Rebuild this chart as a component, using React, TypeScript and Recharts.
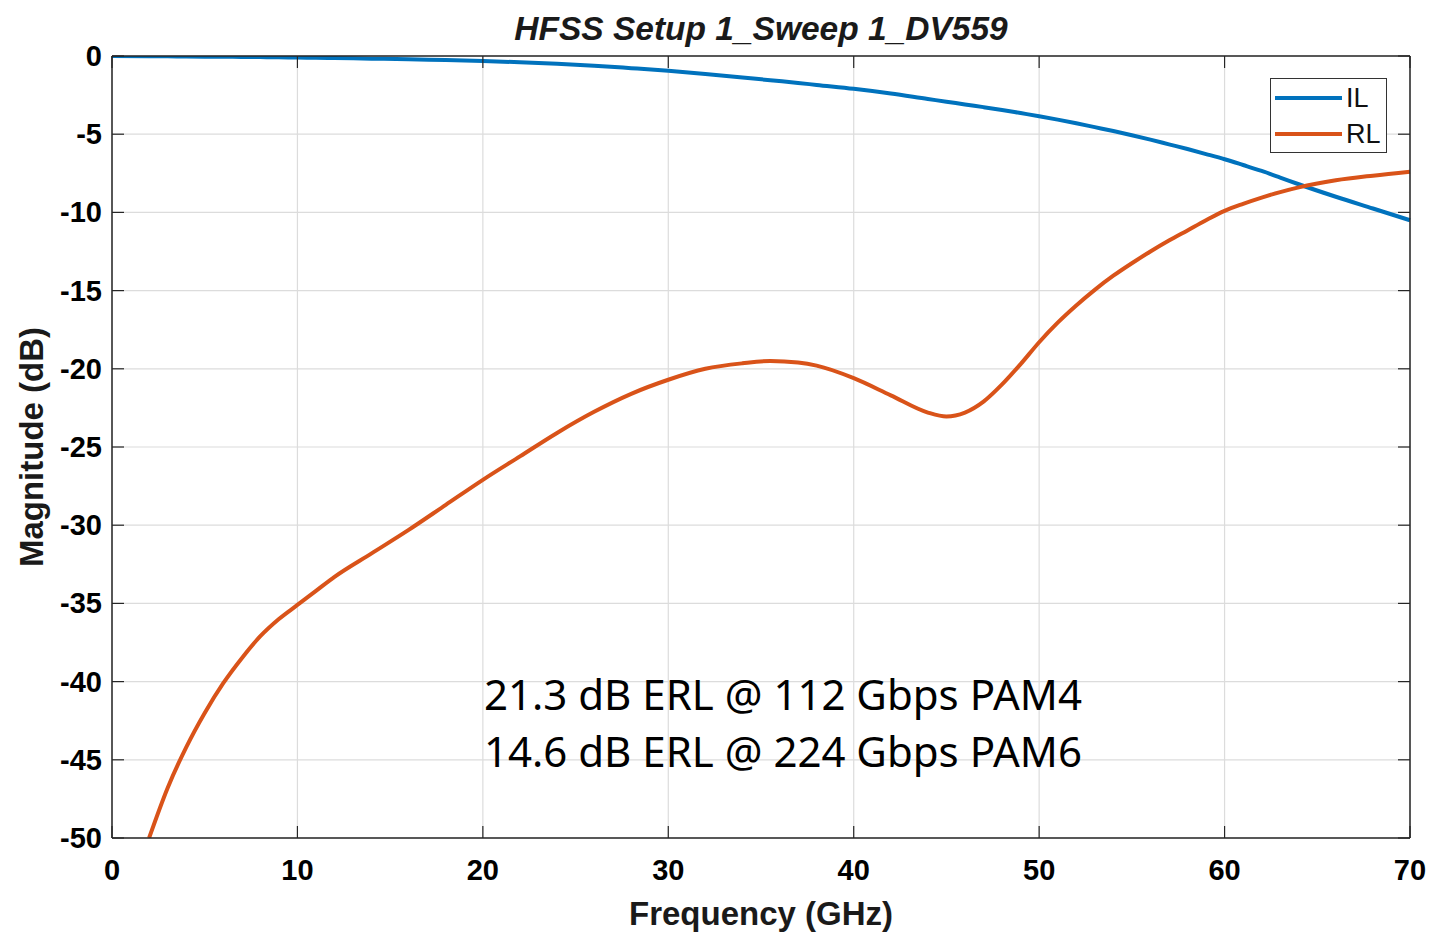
import React from 'react';
import { LineChart, Line, XAxis, YAxis, CartesianGrid, Legend } from 'recharts';

// frequency points (GHz)
const freq = [0, 2, 3, 4, 5, 6, 7, 8, 9, 10, 11, 12, 14, 16, 18, 20, 22, 24, 26, 28, 30, 32, 34, 35.5, 37, 38, 40, 42, 44, 45, 46, 47, 48, 49, 50, 51, 52, 53, 54, 55, 56, 57, 58, 59, 60, 61, 62, 63, 64, 66, 68, 70];

// insertion loss (dB)
const il = [0, -0.01, -0.02, -0.03, -0.04, -0.05, -0.06, -0.07, -0.08, -0.1, -0.11, -0.13, -0.17, -0.21, -0.26, -0.32, -0.4, -0.5, -0.62, -0.78, -0.95, -1.15, -1.37, -1.55, -1.72, -1.85, -2.1, -2.4, -2.75, -2.92, -3.1, -3.27, -3.45, -3.65, -3.85, -4.07, -4.3, -4.55, -4.8, -5.07, -5.35, -5.65, -5.95, -6.27, -6.6, -6.97, -7.35, -7.77, -8.2, -9.0, -9.75, -10.5];

// return loss (dB), below -50 at 0 GHz
const rl = [null, -50, -46.8, -44.2, -42.0, -40.1, -38.5, -37.1, -36.0, -35.1, -34.2, -33.3, -31.8, -30.3, -28.7, -27.1, -25.6, -24.1, -22.75, -21.6, -20.7, -20.0, -19.65, -19.5, -19.6, -19.8, -20.6, -21.7, -22.8, -23.05, -22.8, -22.1, -21.0, -19.7, -18.3, -17.05, -15.95, -14.95, -14.05, -13.25, -12.5, -11.8, -11.15, -10.5, -9.9, -9.45, -9.05, -8.7, -8.4, -7.95, -7.65, -7.4];

const xTicks = [0, 10, 20, 30, 40, 50, 60, 70];
const yTicks = [0, -5, -10, -15, -20, -25, -30, -35, -40, -45, -50];

const data = freq.map((f, i) => ({ f, IL: il[i], RL: rl[i] }));

const FONT = '"Liberation Sans", Arial, sans-serif';
const AXIS = '#262626';

const BottomTick = ({ x, y, payload }: any) => (
  <g>
    <line x1={x} y1={y} x2={x} y2={y - 12} stroke={AXIS} strokeWidth={1.2} />
    <text x={x} y={y + 42} textAnchor="middle" fontFamily={FONT} fontWeight="bold" fontSize={29} fill="#000">
      {payload.value}
    </text>
  </g>
);

const TopTick = ({ x, y }: any) => (
  <line x1={x} y1={y} x2={x} y2={y + 12} stroke={AXIS} strokeWidth={1.2} />
);

const LeftTick = ({ x, y, payload }: any) => (
  <g>
    <line x1={x} y1={y} x2={x + 12} y2={y} stroke={AXIS} strokeWidth={1.2} />
    <text x={x - 10} y={y + 10} textAnchor="end" fontFamily={FONT} fontWeight="bold" fontSize={29} fill="#000">
      {payload.value}
    </text>
  </g>
);

const RightTick = ({ x, y }: any) => (
  <line x1={x} y1={y} x2={x - 12} y2={y} stroke={AXIS} strokeWidth={1.2} />
);

const LegendBox = ({ payload }: any) => (
  <div style={{
    width: 117,
    height: 75,
    boxSizing: 'border-box',
    border: '1.5px solid #333',
    background: '#fff',
    position: 'relative'
  }}>
    {(payload || []).map((item: any, index: number) => (
      <div key={`legend-${index}`} style={{
        position: 'absolute',
        left: 4,
        top: index === 0 ? 3 : 39,
        height: 32,
        display: 'flex',
        alignItems: 'center'
      }}>
        <span style={{ display: 'inline-block', width: 67, height: 4, background: item.color }} />
        <span style={{ marginLeft: 4, fontFamily: FONT, fontSize: 27, color: '#111' }}>{item.value}</span>
      </div>
    ))}
  </div>
);

export default function App() {
  return (
    <div style={{ position: 'absolute', left: 0, top: 0, width: 1432, height: 933, background: '#fff' }}>
      <LineChart width={1432} height={933} data={data} margin={{ top: 55, right: 21, left: 0, bottom: 0 }}>
        <CartesianGrid stroke="#dcdcdc" strokeWidth={1.2} />
        <XAxis
          dataKey="f"
          type="number"
          domain={[0, 70]}
          ticks={xTicks}
          interval={0}
          height={95}
          tickSize={0}
          tickMargin={0}
          tickLine={false}
          axisLine={{ stroke: AXIS, strokeWidth: 1.5 }}
          tick={<BottomTick />}
        />
        <XAxis
          xAxisId="top"
          orientation="top"
          dataKey="f"
          type="number"
          domain={[0, 70]}
          ticks={xTicks}
          interval={0}
          height={1}
          tickSize={0}
          tickMargin={0}
          tickLine={false}
          axisLine={{ stroke: AXIS, strokeWidth: 1.5 }}
          tick={<TopTick />}
        />
        <YAxis
          type="number"
          domain={[-50, 0]}
          ticks={yTicks}
          interval={0}
          width={112}
          allowDataOverflow
          tickSize={0}
          tickMargin={0}
          tickLine={false}
          axisLine={{ stroke: AXIS, strokeWidth: 1.5 }}
          tick={<LeftTick />}
        />
        <YAxis
          yAxisId="right"
          orientation="right"
          type="number"
          domain={[-50, 0]}
          ticks={yTicks}
          interval={0}
          width={1}
          allowDataOverflow
          tickSize={0}
          tickMargin={0}
          tickLine={false}
          axisLine={{ stroke: AXIS, strokeWidth: 1.5 }}
          tick={<RightTick />}
        />
        <Line xAxisId="top" yAxisId="right" type="monotone" dataKey="IL" name="IL" stroke="#0072BD" strokeWidth={4} dot={false} isAnimationActive={false} />
        <Line type="monotone" dataKey="RL" name="RL" stroke="#D95319" strokeWidth={4} dot={false} isAnimationActive={false} />
        <Legend
          layout="vertical"
          align="center"
          verticalAlign="middle"
          content={<LegendBox />}
          wrapperStyle={{ position: 'absolute', left: 1270, top: 78, width: 117, height: 75 }}
        />
      </LineChart>
      <svg width={1432} height={933} style={{ position: 'absolute', left: 0, top: 0, pointerEvents: 'none' }}>
        <text x={761} y={40} textAnchor="middle" fontFamily={FONT} fontWeight="bold" fontStyle="italic" fontSize={33.5} fill="#1a1a1a">
          HFSS Setup 1_Sweep 1_DV559
        </text>
        <text x={761} y={925} textAnchor="middle" fontFamily={FONT} fontWeight="bold" fontSize={33} fill="#1a1a1a">
          Frequency (GHz)
        </text>
        <text transform="translate(43,447) rotate(-90)" textAnchor="middle" fontFamily={FONT} fontWeight="bold" fontSize={33} fill="#1a1a1a">
          Magnitude (dB)
        </text>
        <text x={484} y={710} fontFamily='"Noto Sans", sans-serif' fontSize={42} fill="#000">
          21.3 dB ERL @ 112 Gbps PAM4
        </text>
        <text x={484} y={767} fontFamily='"Noto Sans", sans-serif' fontSize={42} fill="#000">
          14.6 dB ERL @ 224 Gbps PAM6
        </text>
      </svg>
    </div>
  );
}
